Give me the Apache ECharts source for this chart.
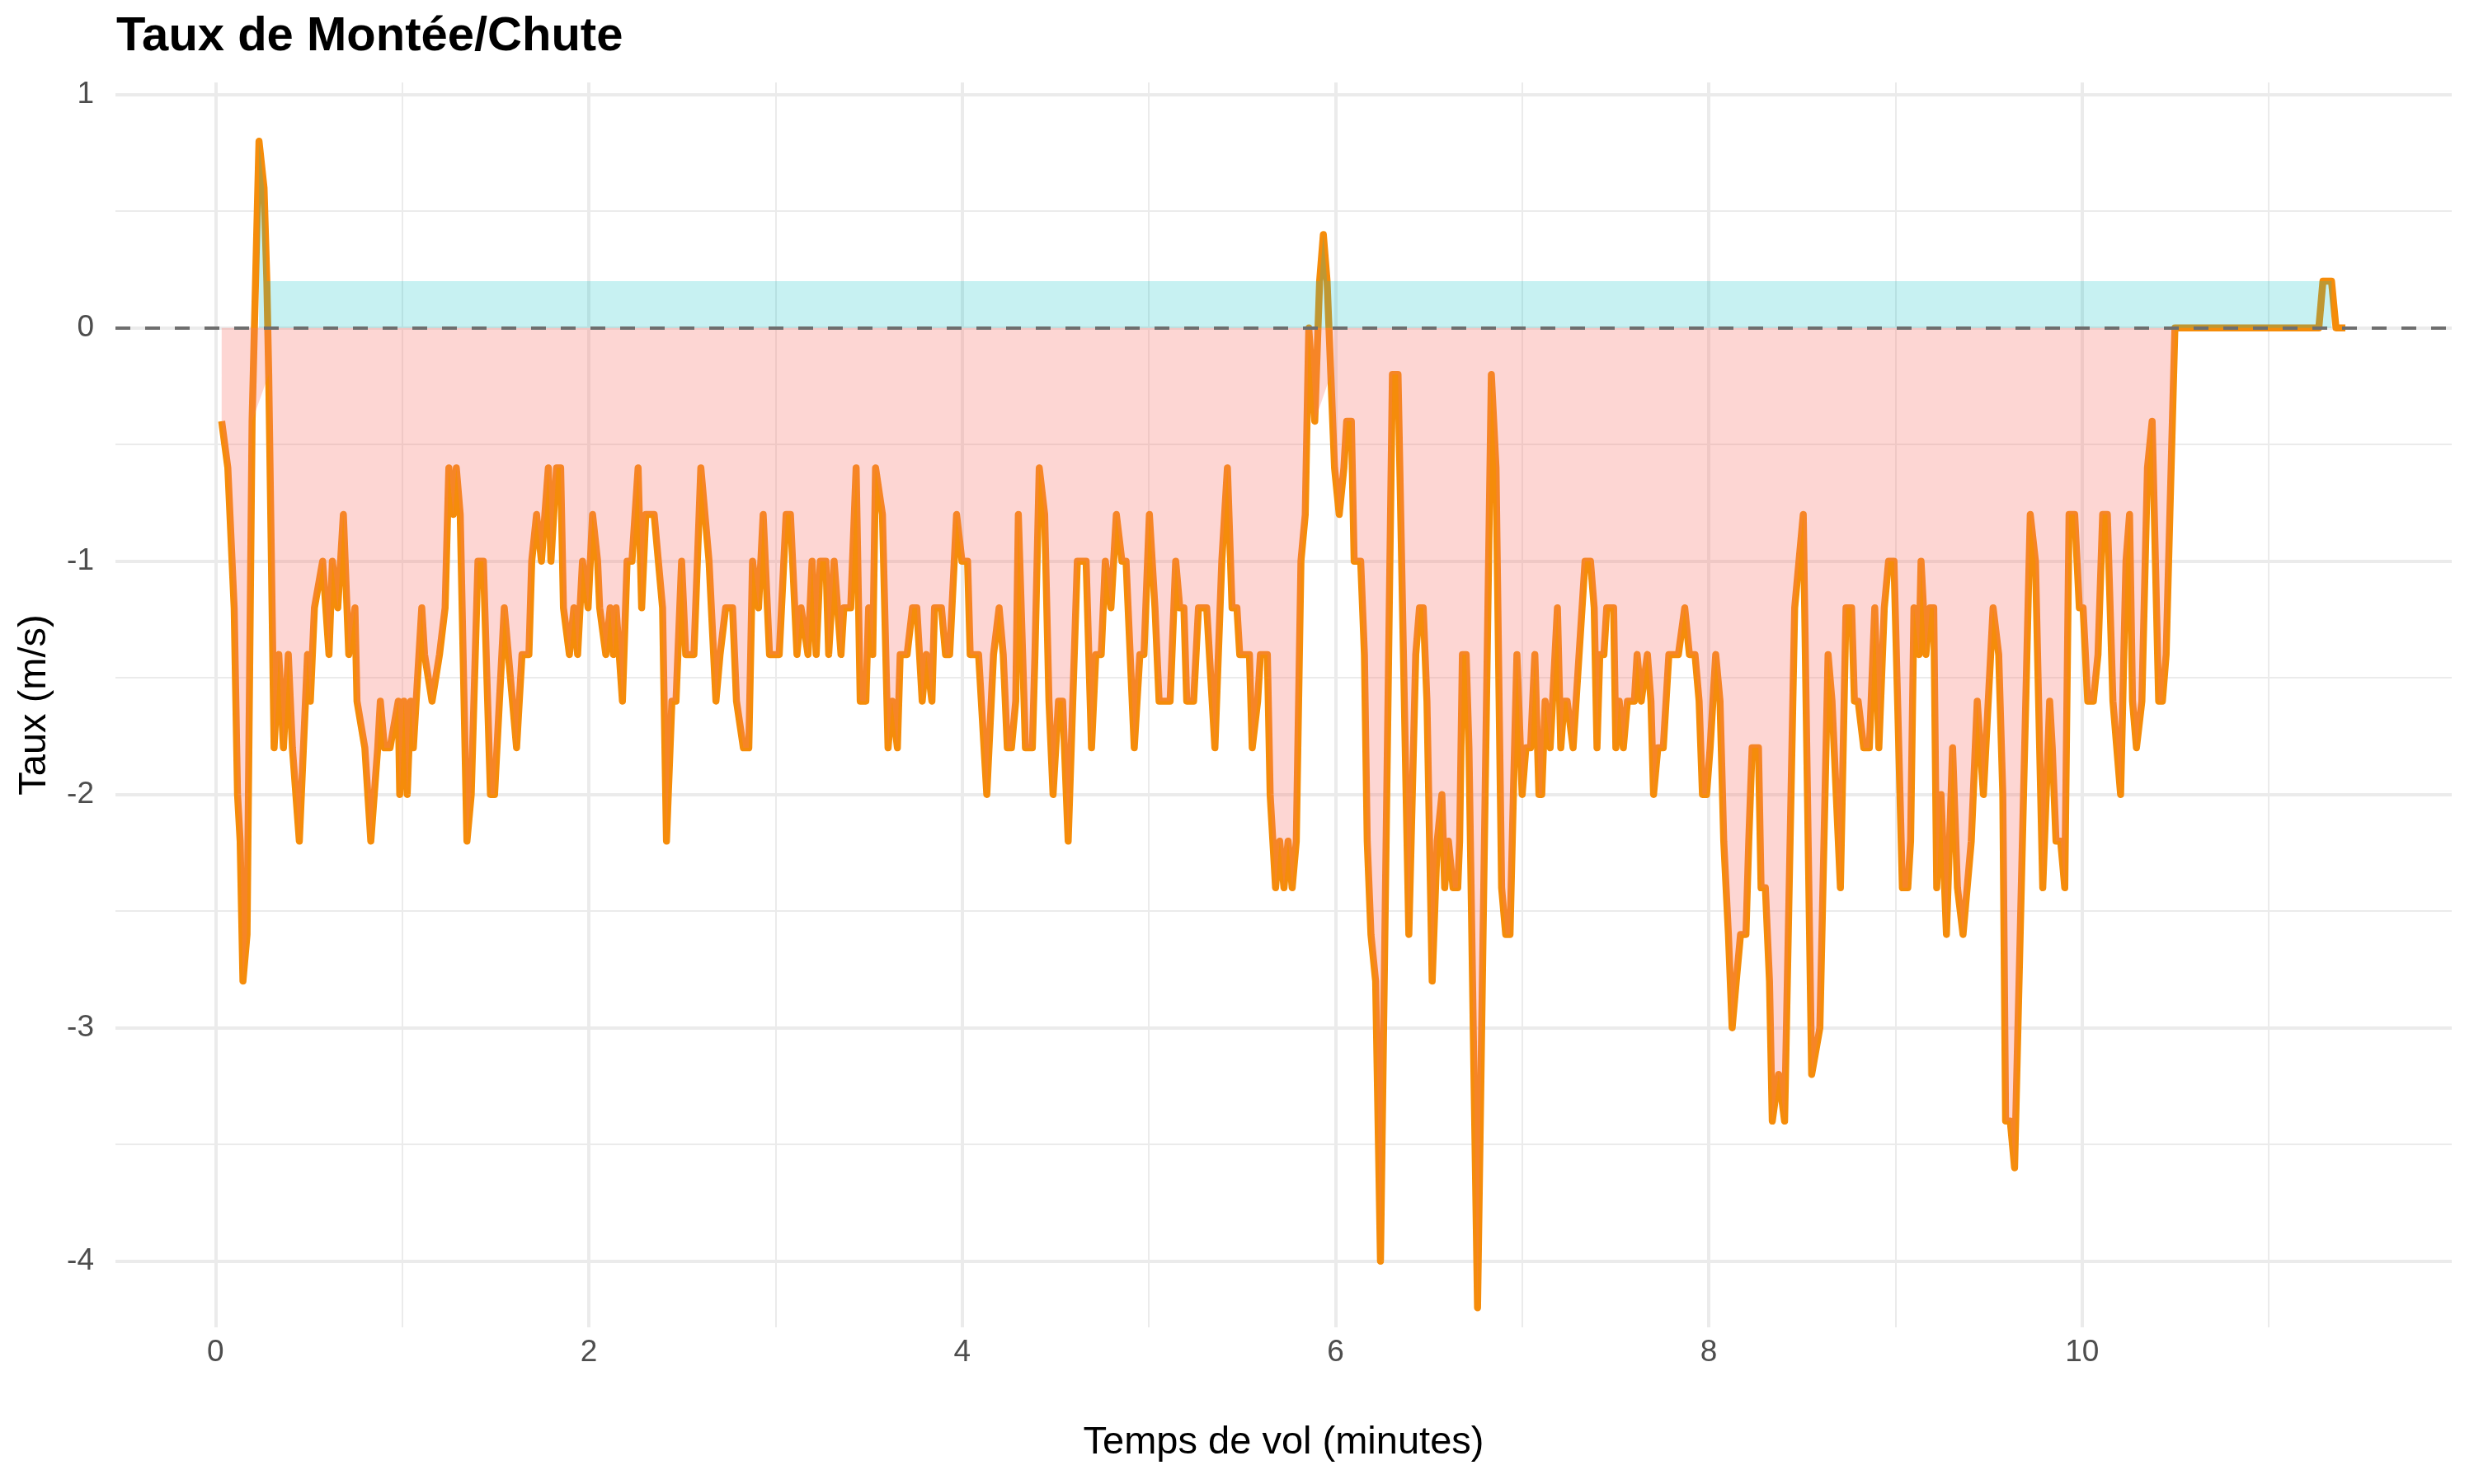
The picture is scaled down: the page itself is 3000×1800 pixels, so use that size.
<!DOCTYPE html>
<html>
<head>
<meta charset="utf-8">
<script src="https://cdn.jsdelivr.net/npm/echarts@6/dist/echarts.min.js"></script>
<style>
html,body{margin:0;padding:0;background:#ffffff;}
#chart{width:3000px;height:1800px;}
</style>
</head>
<body>
<div id="chart"></div>
<script>
// ---- data (time in minutes, rate in m/s) ----
const times = [
0.033,0.066,0.100,0.118,0.132,0.147,0.169,0.196,0.233,0.260,0.275,0.285,0.314,0.339,0.364,0.390,0.412,0.449,0.471,0.493,
0.508,0.530,0.574,0.608,0.626,0.655,0.685,0.714,0.747,0.758,0.800,0.832,0.869,0.883,0.905,0.935,0.979,0.987,1.009,1.027,
1.046,1.060,1.105,1.120,1.160,1.200,1.230,1.250,1.274,1.290,1.311,1.347,1.370,1.406,1.435,1.473,1.495,1.547,1.569,1.613,
1.642,1.679,1.694,1.720,1.746,1.783,1.797,1.827,1.849,1.864,1.896,1.920,1.940,1.966,1.996,2.020,2.047,2.058,2.091,2.114,
2.131,2.146,2.180,2.205,2.231,2.264,2.283,2.305,2.350,2.395,2.416,2.445,2.467,2.497,2.519,2.563,2.600,2.644,2.681,2.703,
2.733,2.770,2.791,2.828,2.857,2.877,2.909,2.934,2.968,3.020,3.057,3.080,3.115,3.137,3.174,3.196,3.218,3.240,3.270,3.285,
3.314,3.351,3.366,3.403,3.432,3.454,3.484,3.499,3.521,3.536,3.573,3.603,3.625,3.653,3.668,3.705,3.734,3.757,3.786,3.808,
3.838,3.852,3.889,3.911,3.933,3.970,3.999,4.029,4.043,4.088,4.132,4.168,4.198,4.220,4.242,4.264,4.287,4.301,4.324,4.339,
4.376,4.390,4.413,4.442,4.465,4.487,4.516,4.538,4.568,4.617,4.664,4.693,4.716,4.745,4.767,4.797,4.826,4.856,4.878,4.922,
4.952,4.974,5.003,5.033,5.055,5.114,5.144,5.166,5.188,5.203,5.240,5.266,5.310,5.354,5.391,5.421,5.446,5.472,5.487,5.539,
5.554,5.583,5.598,5.635,5.650,5.679,5.701,5.724,5.746,5.768,5.790,5.815,5.838,5.857,5.889,5.915,5.935,5.955,5.975,5.995,
6.020,6.045,6.060,6.085,6.100,6.135,6.155,6.170,6.190,6.215,6.241,6.305,6.335,6.393,6.430,6.450,6.470,6.490,6.518,6.545,
6.570,6.585,6.605,6.630,6.655,6.665,6.680,6.700,6.715,6.761,6.835,6.860,6.890,6.912,6.935,6.953,6.972,7.000,7.020,7.045,
7.068,7.090,7.105,7.123,7.150,7.189,7.207,7.225,7.241,7.273,7.337,7.366,7.386,7.401,7.416,7.438,7.453,7.490,7.502,7.520,
7.542,7.564,7.601,7.616,7.638,7.671,7.690,7.704,7.727,7.756,7.786,7.837,7.871,7.896,7.926,7.948,7.966,7.988,8.007,8.037,
8.060,8.080,8.105,8.125,8.147,8.170,8.199,8.214,8.232,8.266,8.280,8.303,8.325,8.340,8.374,8.406,8.460,8.506,8.551,8.595,
8.639,8.660,8.705,8.735,8.765,8.780,8.800,8.830,8.860,8.889,8.911,8.940,8.963,8.992,9.037,9.066,9.081,9.099,9.126,9.137,
9.163,9.185,9.205,9.221,9.244,9.273,9.306,9.332,9.362,9.406,9.438,9.471,9.523,9.553,9.575,9.590,9.615,9.638,9.722,9.750,
9.789,9.826,9.840,9.860,9.885,9.907,9.930,9.960,9.985,10.005,10.030,10.060,10.085,10.110,10.135,10.165,10.206,10.235,10.254,10.270,
10.291,10.320,10.350,10.375,10.410,10.430,10.450,10.470,10.497,10.600,10.800,11.000,11.200,11.268,11.290,11.336,11.360,11.410
];
const rates = [
-0.4,-0.6,-1.2,-2.0,-2.2,-2.8,-2.6,-0.4,0.8,0.6,0.2,-0.2,-1.8,-1.4,-1.8,-1.4,-1.8,-2.2,-1.8,-1.4,
-1.6,-1.2,-1.0,-1.4,-1.0,-1.2,-0.8,-1.4,-1.2,-1.6,-1.8,-2.2,-1.8,-1.6,-1.8,-1.8,-1.6,-2.0,-1.6,-2.0,
-1.6,-1.8,-1.2,-1.4,-1.6,-1.4,-1.2,-0.6,-0.8,-0.6,-0.8,-2.2,-2.0,-1.0,-1.0,-2.0,-2.0,-1.2,-1.4,-1.8,
-1.4,-1.4,-1.0,-0.8,-1.0,-0.6,-1.0,-0.6,-0.6,-1.2,-1.4,-1.2,-1.4,-1.0,-1.2,-0.8,-1.0,-1.2,-1.4,-1.2,
-1.4,-1.2,-1.6,-1.0,-1.0,-0.6,-1.2,-0.8,-0.8,-1.2,-2.2,-1.6,-1.6,-1.0,-1.4,-1.4,-0.6,-1.0,-1.6,-1.4,
-1.2,-1.2,-1.6,-1.8,-1.8,-1.0,-1.2,-0.8,-1.4,-1.4,-0.8,-0.8,-1.4,-1.2,-1.4,-1.0,-1.4,-1.0,-1.0,-1.4,
-1.0,-1.4,-1.2,-1.2,-0.6,-1.6,-1.6,-1.2,-1.4,-0.6,-0.8,-1.8,-1.6,-1.8,-1.4,-1.4,-1.2,-1.2,-1.6,-1.4,
-1.6,-1.2,-1.2,-1.4,-1.4,-0.8,-1.0,-1.0,-1.4,-1.4,-2.0,-1.4,-1.2,-1.4,-1.8,-1.8,-1.6,-0.8,-1.4,-1.8,
-1.8,-1.4,-0.6,-0.8,-1.6,-2.0,-1.6,-1.6,-2.2,-1.0,-1.0,-1.8,-1.4,-1.4,-1.0,-1.2,-0.8,-1.0,-1.0,-1.8,
-1.4,-1.4,-0.8,-1.2,-1.6,-1.6,-1.0,-1.2,-1.2,-1.6,-1.6,-1.2,-1.2,-1.8,-1.0,-0.6,-1.2,-1.2,-1.4,-1.4,
-1.8,-1.6,-1.4,-1.4,-2.0,-2.4,-2.2,-2.4,-2.2,-2.4,-2.2,-1.0,-0.8,0.0,-0.4,0.2,0.4,0.2,-0.2,-0.6,
-0.8,-0.6,-0.4,-0.4,-1.0,-1.0,-1.4,-2.2,-2.6,-2.8,-4.0,-0.2,-0.2,-2.6,-1.4,-1.2,-1.2,-1.6,-2.8,-2.2,
-2.0,-2.4,-2.2,-2.4,-2.4,-2.2,-1.4,-1.4,-1.8,-4.2,-0.2,-0.6,-2.4,-2.6,-2.6,-2.0,-1.4,-2.0,-1.8,-1.8,
-1.4,-2.0,-2.0,-1.6,-1.8,-1.2,-1.8,-1.6,-1.6,-1.8,-1.0,-1.0,-1.2,-1.8,-1.4,-1.4,-1.2,-1.2,-1.8,-1.6,
-1.8,-1.6,-1.6,-1.4,-1.6,-1.4,-1.6,-2.0,-1.8,-1.8,-1.4,-1.4,-1.2,-1.4,-1.4,-1.6,-2.0,-2.0,-1.8,-1.4,
-1.6,-2.2,-2.6,-3.0,-2.8,-2.6,-2.6,-2.2,-1.8,-1.8,-2.4,-2.4,-2.8,-3.4,-3.2,-3.4,-1.2,-0.8,-3.2,-3.0,
-1.4,-1.6,-2.4,-1.2,-1.2,-1.6,-1.6,-1.8,-1.8,-1.2,-1.8,-1.2,-1.0,-1.0,-2.4,-2.4,-2.2,-1.2,-1.4,-1.0,
-1.4,-1.2,-1.2,-2.4,-2.0,-2.6,-1.8,-2.4,-2.6,-2.2,-1.6,-2.0,-1.2,-1.4,-2.0,-3.4,-3.4,-3.6,-0.8,-1.0,
-2.4,-1.6,-1.8,-2.2,-2.2,-2.4,-0.8,-0.8,-1.2,-1.2,-1.6,-1.6,-1.4,-0.8,-0.8,-1.6,-2.0,-1.0,-0.8,-1.6,
-1.8,-1.6,-0.6,-0.4,-1.6,-1.6,-1.4,-0.8,0.0,0.0,0.0,0.0,0.0,0.0,0.2,0.2,0.0,0.0
];
const xMajorTicks = [0, 2, 4, 6, 8, 10];
const xMinorTicks = [1, 3, 5, 7, 9, 11];
const yMajorTicks = [-4, -3, -2, -1, 0, 1];
const yMinorTicks = [-3.5, -2.5, -1.5, -0.5, 0.5];
const titleText = 'Taux de Montée/Chute';
const xTitle = 'Temps de vol (minutes)';
const yTitle = 'Taux (m/s)';

// ---- derived series (same points, split by sign like the fill groups) ----
const linePts = times.map((t, i) => [t, rates[i]]);
const chutePts = linePts.filter(p => p[1] <= 0);
const monteePts = linePts.filter(p => p[1] > 0);

const X_MIN = -0.536, X_MAX = 11.98, Y_MIN = -4.284, Y_MAX = 1.052;
const FONT = "'Liberation Sans', Arial, Helvetica, sans-serif";

const chart = echarts.init(document.getElementById('chart'), null, {renderer: 'canvas'});
chart.setOption({
  backgroundColor: '#ffffff',
  animation: false,
  title: {
    text: titleText, left: 136, top: 11,
    textStyle: {fontFamily: FONT, fontSize: 58, fontWeight: 'bold', color: '#000000'}
  },
  grid: {left: 140, right: 27, top: 100, bottom: 190, containLabel: false},
  xAxis: [
    {
      type: 'value', min: X_MIN, max: X_MAX,
      name: xTitle, nameLocation: 'middle', nameGap: 117,
      nameTextStyle: {fontFamily: FONT, fontSize: 47, color: '#000000'},
      axisLine: {show: false},
      axisTick: {show: false, customValues: xMajorTicks},
      axisLabel: {customValues: xMajorTicks, fontFamily: FONT, fontSize: 37, color: '#4D4D4D', margin: 12},
      splitLine: {show: true, lineStyle: {color: '#EBEBEB', width: 4}}
    },
    {
      type: 'value', min: X_MIN, max: X_MAX, position: 'top',
      axisLine: {show: false},
      axisTick: {show: false, customValues: xMinorTicks},
      axisLabel: {show: false, customValues: xMinorTicks},
      splitLine: {show: true, lineStyle: {color: '#EBEBEB', width: 2}}
    }
  ],
  yAxis: [
    {
      type: 'value', min: Y_MIN, max: Y_MAX,
      name: yTitle, nameLocation: 'middle', nameGap: 74, nameRotate: 90,
      nameTextStyle: {fontFamily: FONT, fontSize: 47, color: '#000000'},
      axisLine: {show: false},
      axisTick: {show: false, customValues: yMajorTicks},
      axisLabel: {customValues: yMajorTicks, fontFamily: FONT, fontSize: 37, color: '#4D4D4D', margin: 26},
      splitLine: {show: true, lineStyle: {color: '#EBEBEB', width: 4}}
    },
    {
      type: 'value', min: Y_MIN, max: Y_MAX, position: 'right',
      axisLine: {show: false},
      axisTick: {show: false, customValues: yMinorTicks},
      axisLabel: {show: false, customValues: yMinorTicks},
      splitLine: {show: true, lineStyle: {color: '#EBEBEB', width: 2}}
    }
  ],
  series: [
    {
      name: 'Taux', type: 'line', data: linePts, z: 2,
      showSymbol: false, symbol: 'none', silent: true,
      lineStyle: {color: '#F58C0A', width: 8.5, join: 'round', cap: 'butt'}
    },
    {
      name: 'Chute', type: 'line', data: chutePts, z: 3,
      showSymbol: false, symbol: 'none', silent: true,
      lineStyle: {width: 0, opacity: 0},
      areaStyle: {color: '#F8766D', opacity: 0.3, origin: 0}
    },
    {
      name: 'Montée', type: 'line', data: monteePts, z: 3,
      showSymbol: false, symbol: 'none', silent: true,
      lineStyle: {width: 0, opacity: 0},
      areaStyle: {color: '#00BFC4', opacity: 0.22, origin: 0}
    },
    {
      name: 'zero', type: 'line', data: [], z: 10, silent: true,
      markLine: {
        silent: true, symbol: ['none', 'none'],
        label: {show: false},
        lineStyle: {color: '#6E6E6E', width: 4, type: [18, 18]},
        data: [{yAxis: 0}]
      }
    }
  ]
});
</script>
</body>
</html>
